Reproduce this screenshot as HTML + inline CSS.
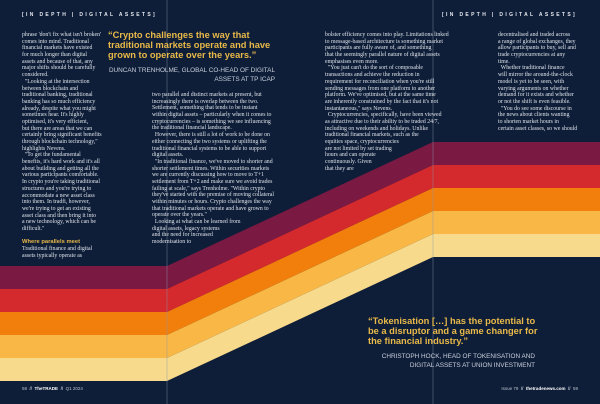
<!DOCTYPE html>
<html><head><meta charset="utf-8"><style>
html,body{margin:0;padding:0}
body{width:600px;height:404px;background:#0e1e38;position:relative;overflow:hidden;font-family:"Liberation Serif",serif}
.col{position:absolute;color:#dfe3ea;font-size:5.8px;line-height:6.68px;white-space:pre}
.hdr{position:absolute;top:12px;color:#e6e8ee;font-family:"Liberation Sans",sans-serif;font-weight:bold;font-size:5px;letter-spacing:2.35px}
.q{position:absolute;color:#e9b949;font-family:"Liberation Sans",sans-serif;font-weight:bold;font-size:9.3px;line-height:10px;white-space:pre}
.att{position:absolute;color:#c9cfdb;font-family:"Liberation Sans",sans-serif;font-size:6.4px;line-height:9px;text-align:right;white-space:pre}
.ft{position:absolute;top:386px;color:#b9c0cc;font-family:"Liberation Sans",sans-serif;font-size:4.5px}
svg{position:absolute;left:0;top:0}
</style></head><body>
<svg width="600" height="404">
<polygon points="0,266 167,266 433,142 600,142 600,165 433,165 167,289 0,289" fill="#7a1942"/>
<polygon points="0,289 167,289 433,165 600,165 600,188 433,188 167,312 0,312" fill="#d4292d"/>
<polygon points="0,312 167,312 433,188 600,188 600,211 433,211 167,335 0,335" fill="#f27f0c"/>
<polygon points="0,335 167,335 433,211 600,211 600,234 433,234 167,358 0,358" fill="#f9b845"/>
<polygon points="0,358 167,358 433,234 600,234 600,257 433,257 167,381 0,381" fill="#f8da8c"/>
<line x1="167" y1="0" x2="167" y2="404" stroke="#8c97ab" stroke-width="0.6" opacity="0.7"/>
<line x1="433" y1="0" x2="433" y2="404" stroke="#8c97ab" stroke-width="0.6" opacity="0.7"/>
</svg>
<div class="hdr" style="left:22px">[IN DEPTH | DIGITAL ASSETS]</div>
<div class="hdr" style="left:442px">[IN DEPTH | DIGITAL ASSETS]</div>
<div class="col" style="left:22px;top:32px">phrase 'don't fix what isn't broken'
comes into mind. Traditional
financial markets have existed
for much longer than digital
assets and because of that, any
major shifts should be carefully
considered.
  "Looking at the intersection
between blockchain and
traditional banking, traditional
banking has so much efficiency
already, despite what you might
sometimes hear. It's highly
optimised, it's very efficient,
but there are areas that we can
certainly bring significant benefits
through blockchain technology,"
highlights Nevens.
  "To get the fundamental
benefits, it's hard work and it's all
about building and getting all the
various participants comfortable.
In crypto you're taking traditional
structures and you're trying to
accommodate a new asset class
into them. In tradfi, however,
we're trying to get an existing
asset class and then bring it into
a new technology, which can be
difficult."

<b style="color:#e9b949;font-family:'Liberation Sans',sans-serif">Where parallels meet</b>
Traditional finance and digital
assets typically operate as</div>
<div class="q" style="left:108px;top:30px">“Crypto challenges the way that
traditional markets operate and have
grown to operate over the years.”</div>
<div class="att" style="right:325px;top:66px">DUNCAN TRENHOLME, GLOBAL CO-HEAD OF DIGITAL
ASSETS AT TP ICAP</div>
<div class="col" style="left:152px;top:92px">two parallel and distinct markets at present, but
increasingly there is overlap between the two.
Settlement, something that tends to be instant
within digital assets – particularly when it comes to
cryptocurrencies – is something we see influencing
the traditional financial landscape.
  However, there is still a lot of work to be done on
either connecting the two systems or uplifting the
traditional financial systems to be able to support
digital assets.
  "In traditional finance, we've moved to shorter and
shorter settlement times. Within securities markets
we are currently discussing how to move to T+1
settlement from T+2 and make sure we avoid trades
failing at scale," says Trenholme. "Within crypto
they've started with the premise of moving collateral
within minutes or hours. Crypto challenges the way
that traditional markets operate and have grown to
operate over the years."
  Looking at what can be learned from
digital assets, legacy systems
and the need for increased
modernisation to</div>
<div class="col" style="left:325px;top:32px">bolster efficiency comes into play. Limitations linked
to message-based architecture is something market
participants are fully aware of, and something
that the seemingly parallel nature of digital assets
emphasises even more.
  "You just can't do the sort of composable
transactions and achieve the reduction in
requirement for reconciliation when you're still
sending messages from one platform to another
platform. We've optimised, but at the same time
are inherently constrained by the fact that it's not
instantaneous," says Nevens.
  Cryptocurrencies, specifically, have been viewed
as attractive due to their ability to be traded 24/7,
including on weekends and holidays. Unlike
traditional financial markets, such as the
equities space, cryptocurrencies
are not limited by set trading
hours and can operate
continuously. Given
that they are</div>
<div class="col" style="left:498px;top:32px">decentralised and traded across
a range of global exchanges, they
allow participants to buy, sell and
trade cryptocurrencies at any
time.
  Whether traditional finance
will mirror the around-the-clock
model is yet to be seen, with
varying arguments on whether
demand for it exists and whether
or not the shift is even feasible.
  "You do see some discourse in
the news about clients wanting
to shorten market hours in
certain asset classes, so we should</div>
<div class="q" style="left:368px;top:316px">“Tokenisation […] has the potential to
be a disruptor and a game changer for
the financial industry.”</div>
<div class="att" style="right:65px;top:352px">CHRISTOPH HOCK, HEAD OF TOKENISATION AND
DIGITAL ASSETS AT UNION INVESTMENT</div>
<div class="ft" style="left:22px">58 &nbsp;<b>//</b>&nbsp; <b style="color:#fff">TheTRADE</b> &nbsp;<b>//</b>&nbsp; Q1 2024</div>
<div class="ft" style="right:22px">Issue 79 &nbsp;<b>//</b>&nbsp; <b style="color:#fff">thetradenews.com</b> &nbsp;<b>//</b>&nbsp; 59</div>
</body></html>
